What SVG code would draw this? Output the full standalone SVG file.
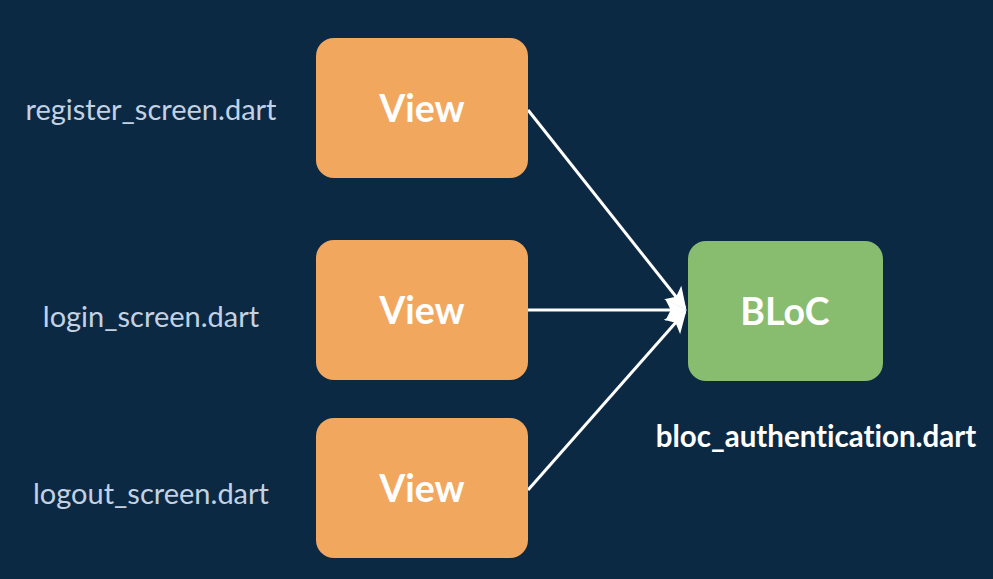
<svg xmlns="http://www.w3.org/2000/svg" width="993" height="579" viewBox="0 0 993 579">
<style>
text{font-variant-ligatures:none}
.view{fill:#f2a75f}
.bloc{fill:#88bc6f}
.lbl{font-family:Lato,"Liberation Sans",sans-serif;font-size:29px;fill:#c3d2e2;text-anchor:middle}
.title{font-family:Lato,"Liberation Sans",sans-serif;font-weight:bold;font-size:37.5px;fill:#ffffff;text-anchor:middle}
.file{font-family:Lato,"Liberation Sans",sans-serif;font-weight:bold;font-size:29.5px;fill:#ffffff;text-anchor:middle}
</style>
<defs>
<marker id="ah2" viewBox="0 0 20 20" refX="18" refY="10" markerWidth="22" markerHeight="22" markerUnits="userSpaceOnUse" orient="auto">
<path d="M0,0 L20,10 L0,20 L5,10 Z" fill="#ffffff"/>
</marker>
</defs>
<rect width="993" height="579" fill="#0c2944"/>
<g id="connectors">
<line x1="528" y1="110" x2="685" y2="308" stroke="#ffffff" stroke-width="3" marker-end="url(#ah2)"/>
<line x1="528" y1="310" x2="685" y2="310" stroke="#ffffff" stroke-width="3" marker-end="url(#ah2)"/>
<line x1="528" y1="490" x2="685" y2="312" stroke="#ffffff" stroke-width="3" marker-end="url(#ah2)"/>
</g>
<g id="view1">
<rect class="view" x="316" y="38" width="212" height="140" rx="18"/>
<text class="title" x="422" y="122">View</text>
</g>
<g id="view2">
<rect class="view" x="316" y="240" width="212" height="140" rx="18"/>
<text class="title" x="422" y="324">View</text>
</g>
<g id="view3">
<rect class="view" x="316" y="418" width="212" height="140" rx="18"/>
<text class="title" x="422" y="502">View</text>
</g>
<g id="bloc">
<rect class="bloc" x="688" y="241" width="195" height="140" rx="18"/>
<text class="title" x="785" y="325">BLoC</text>
</g>
<g id="labels">
<text class="lbl" x="151" y="120">register_screen.dart</text>
<text class="lbl" x="151" y="327">login_screen.dart</text>
<text class="lbl" x="151" y="504">logout_screen.dart</text>
<text class="file" x="816" y="447">bloc_authentication.dart</text>
</g>
</svg>
